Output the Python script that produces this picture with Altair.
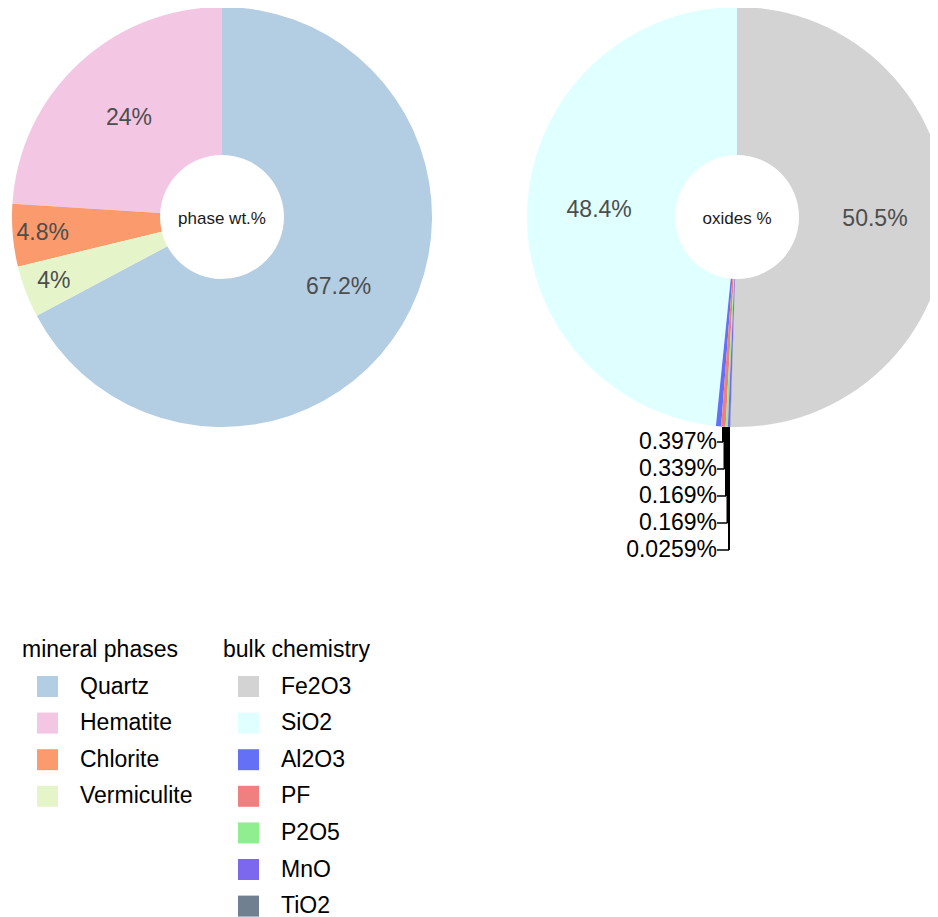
import altair as alt
import pandas as pd

# ---------------- data ----------------
phases = ["Quartz", "Hematite", "Chlorite", "Vermiculite"]
phase_values = [67.2, 24, 4.8, 4]
phase_colors = ["#b3cde3", "#f3c7e3", "#fb9a6c", "#e6f5c9"]
phase_stack = ["Quartz", "Vermiculite", "Chlorite", "Hematite"]  # clockwise from 12 o'clock

oxides = ["Fe2O3", "SiO2", "Al2O3", "PF", "P2O5", "MnO", "TiO2"]
oxide_values = [50.5, 48.4, 0.397, 0.339, 0.169, 0.169, 0.0259]
oxide_colors = ["#d3d3d3", "#e0ffff", "#6470f5", "#f08080", "#90ee90", "#7b68ee", "#708090"]
oxide_stack = ["Fe2O3", "TiO2", "MnO", "P2O5", "PF", "Al2O3", "SiO2"]  # clockwise from 12 o'clock

center_titles = ["phase wt.%", "oxides %"]
legend_titles = ["mineral phases", "bulk chemistry"]

# ---------------- tables ----------------
phase_df = pd.DataFrame({
    "cat": phases,
    "value": phase_values,
    "slot": [phase_stack.index(p) for p in phases],
})
oxide_df = pd.DataFrame({
    "cat": oxides,
    "value": oxide_values,
    "slot": [oxide_stack.index(o) for o in oxides],
})

FONT = "Liberation Sans"
W, H = 922, 909
CY = 209
LCX, RCX = 214, 729
R_OUT, R_IN = 210, 62


def donut(df, domain, colors, title, cx, lx, ly):
    return alt.Chart(df).mark_arc(innerRadius=R_IN, outerRadius=R_OUT).encode(
        theta=alt.Theta("value:Q", stack=True),
        order=alt.Order("slot:Q"),
        color=alt.Color(
            "cat:N",
            scale=alt.Scale(domain=domain, range=colors),
            legend=alt.Legend(
                title=title, orient="none", legendX=lx, legendY=ly,
                direction="vertical", padding=0,
                symbolType="square", symbolSize=441, symbolStrokeWidth=0,
                symbolOffset=14, labelOffset=21,
                labelFontSize=23, titleFontSize=23, titleFontWeight="normal",
                labelFont=FONT, titleFont=FONT,
                labelColor="black", titleColor="black",
                rowPadding=12.6, titlePadding=13, labelLimit=300,
            ),
        ),
        x=alt.value(cx),
        y=alt.value(CY),
    )


def pie_labels(df, cx, radius, cond):
    return alt.Chart(df).transform_calculate(
        lab=f"({cond}) ? datum.value + '%' : ''"
    ).mark_text(
        radius=radius, fontSize=23, font=FONT, color="#4d4d4d",
        align="center", baseline="middle",
    ).encode(
        theta=alt.Theta("value:Q", stack=True),
        order=alt.Order("slot:Q"),
        text="lab:N",
        x=alt.value(cx),
        y=alt.value(CY),
    )


def center_text(txt, cx):
    return alt.Chart(pd.DataFrame({"t": [txt]})).mark_text(
        fontSize=17, font=FONT, color="#1a1a1a", align="center", baseline="middle"
    ).encode(text="t:N", x=alt.value(cx), y=alt.value(CY + 2))


left = donut(phase_df, phases, phase_colors, legend_titles[0], LCX, 14, 631)
right = donut(oxide_df, oxides, oxide_colors, legend_titles[1], RCX, 215, 631)

left_big = pie_labels(phase_df, LCX, 136, "datum.value >= 10")
left_small = pie_labels(phase_df, LCX, 180, "datum.value < 10")
right_big = pie_labels(oxide_df, RCX, 138, "datum.value >= 10")

# repelled small labels under the oxide donut
small = alt.Chart(oxide_df).transform_filter("datum.value < 1").transform_window(
    idx="row_number()", sort=[alt.SortField("value", order="descending")]
)
ys = alt.Y("idx:Q", scale=alt.Scale(domain=[1, 5], range=[434, 542]), axis=None)
xs = alt.X("idx:Q", scale=alt.Scale(domain=[1, 5], range=[715, 721]), axis=None)

small_text = small.transform_calculate(lab="datum.value + '%'").mark_text(
    fontSize=23, font=FONT, color="black", align="right", baseline="middle"
).encode(text="lab:N", y=ys, x=alt.value(709))

vlines = small.mark_rule(color="black", strokeWidth=2).encode(
    x=xs, y=ys, y2=alt.value(419)
)
hlines = small.mark_rule(color="black", strokeWidth=1.5).encode(
    x=xs, x2=alt.value(709), y=ys
)

chart = alt.layer(
    left, right, left_big, left_small, right_big,
    center_text(center_titles[0], LCX), center_text(center_titles[1], RCX),
    vlines, hlines, small_text,
).resolve_scale(color="independent").properties(
    width=W, height=H, padding=0, autosize=alt.AutoSizeParams(type="none")
).configure_view(stroke=None)

chart.save("out.html", embed_options={"renderer": "svg", "actions": False})
